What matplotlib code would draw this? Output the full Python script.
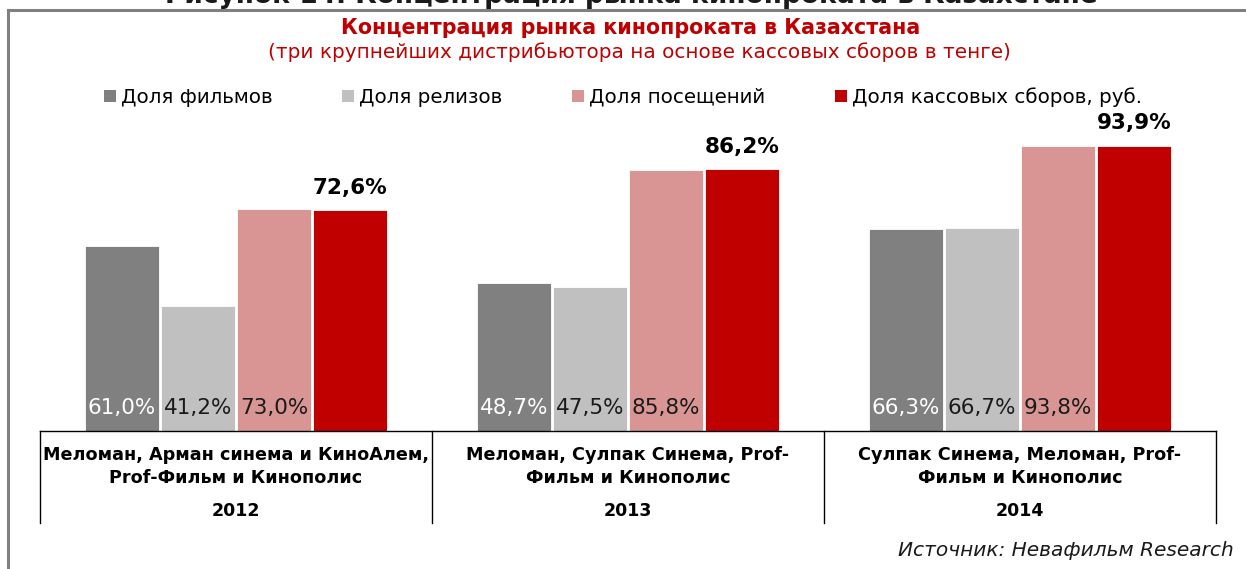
import matplotlib
matplotlib.use("Agg")
import matplotlib.pyplot as plt
from matplotlib.lines import Line2D
from matplotlib.patches import Patch
import numpy as np

plt.rcParams['font.family'] = ['DejaVu Sans']

# ---- data ----
years = ["2012", "2013", "2014"]
distributors = [
    "Меломан, Арман синема и КиноАлем,\nProf-Фильм и Кинополис",
    "Меломан, Сулпак Синема, Prof-\nФильм и Кинополис",
    "Сулпак Синема, Меломан, Prof-\nФильм и Кинополис",
]
series_names = ["Доля фильмов", "Доля релизов", "Доля посещений", "Доля кассовых сборов, руб."]
share_films = [61.0, 48.7, 66.3]
share_releases = [41.2, 47.5, 66.7]
share_attendance = [73.0, 85.8, 93.8]
share_boxoffice = [72.6, 86.2, 93.9]

colors = ["#808080", "#c0c0c0", "#d99594", "#c00000"]
label_colors = ["white", "#1a1a1a", "#1a1a1a"]

W, H = 1246, 569
fig = plt.figure(figsize=(W / 100, H / 100), dpi=100)

ax = fig.add_axes([40 / W, 1 - 431 / H, (1216 - 40) / W, 304 / H])
ax.set_xlim(-0.5, 2.5)
ax.set_ylim(0, 100)

x = np.arange(len(years))
step = 0.194
width = 0.19
all_series = [share_films, share_releases, share_attendance, share_boxoffice]
bars = []
for i, vals in enumerate(all_series):
    b = ax.bar(x + (i - 1.5) * step, vals, width=width, color=colors[i],
               edgecolor='white', linewidth=0.6, label=series_names[i])
    bars.append(b)

# labels inside bars (first three series)
for i in range(3):
    for rect, v in zip(bars[i], all_series[i]):
        ax.annotate(f"{v:.1f}%".replace('.', ','),
                    xy=(rect.get_x() + rect.get_width() / 2, 0),
                    xytext=(0, 16.5), textcoords='offset points',
                    ha='center', va='center', fontsize=15.5,
                    color=label_colors[i])

# bold labels above the box office bars
for rect, v in zip(bars[3], share_boxoffice):
    ax.annotate(f"{v:.1f}%".replace('.', ','),
                xy=(rect.get_x() + rect.get_width() / 2, rect.get_height()),
                xytext=(0, 16), textcoords='offset points',
                ha='center', va='center', fontsize=15.5, fontweight='bold',
                color='black')

# axes styling
for s in ['top', 'right', 'left']:
    ax.spines[s].set_visible(False)
ax.spines['bottom'].set_color('black')
ax.spines['bottom'].set_linewidth(1)
ax.set_yticks([])
ax.set_xticks([])

# category dividers and labels
tr = ax.get_xaxis_transform()
ax_h = 304.0
for xd in [-0.5, 0.5, 1.5, 2.5]:
    ax.add_line(Line2D([xd, xd], [0, -92 / ax_h], transform=tr,
                       color='black', lw=1, clip_on=False))
for xi, name, yr in zip(x, distributors, years):
    ax.text(xi, -(466.5 - 431) / ax_h, name, transform=tr, ha='center', va='center',
            fontsize=12.7, fontweight='bold', linespacing=1.42)
    ax.text(xi, -(511 - 431) / ax_h, yr, transform=tr, ha='center', va='center',
            fontsize=12.5, fontweight='bold')

# legend
handles = [Patch(facecolor=c, edgecolor='none') for c in colors]
fig.legend(handles, series_names, loc='center', bbox_to_anchor=(623 / W, 1 - 97 / H),
           ncol=4, frameon=False, fontsize=14.3, handlelength=0.6, handleheight=0.6,
           handletextpad=0.25, columnspacing=3.5)

# titles
fig.text(631 / W, 1 - 3 / H, "Рисунок 14. Концентрация рынка кинопроката в Казахстане",
         ha='center', va='baseline', fontsize=19, fontweight='bold', color='#1a1a1a')
fig.text(631 / W, 1 - 28 / H, "Концентрация рынка кинопроката в Казахстана",
         ha='center', va='center', fontsize=14.9, fontweight='bold', color='#c00000')
fig.text(639 / W, 1 - 52 / H, "(три крупнейших дистрибьютора на основе кассовых сборов в тенге)",
         ha='center', va='center', fontsize=14.4, color='#c00000')

# source
fig.text(1234 / W, 1 - 551 / H, "Источник: Невафильм Research", ha='right', va='center',
         fontsize=14.5, style='italic', color='#1a1a1a')

# frame lines
fig.add_artist(Line2D([8 / W, 1], [1 - 10 / H, 1 - 10 / H], color='#808080', lw=2.2))
fig.add_artist(Line2D([8 / W, 8 / W], [0, 1 - 10 / H], color='#808080', lw=2.2))

fig.savefig("out.png", dpi=100)
